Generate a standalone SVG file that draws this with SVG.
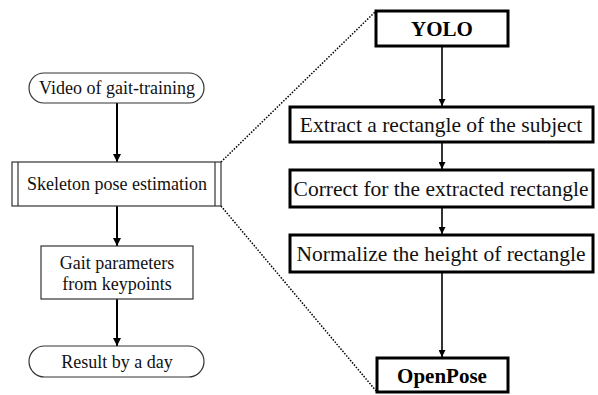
<svg xmlns="http://www.w3.org/2000/svg" width="598" height="395" viewBox="0 0 598 395">
<defs>
<marker id="ah" viewBox="0 0 10 10" refX="10" refY="5" markerWidth="7" markerHeight="7" markerUnits="userSpaceOnUse" orient="auto">
<path d="M0,0 L10,5 L0,10 z" fill="#000"/>
</marker>
<marker id="ahb" viewBox="0 0 10 10" refX="10" refY="5" markerWidth="8" markerHeight="8" markerUnits="userSpaceOnUse" orient="auto">
<path d="M0,0 L10,5 L0,10 z" fill="#000"/>
</marker>
</defs>
<style>
.thin{fill:#fff;stroke:#333;stroke-width:1.2}
.thick{fill:#fff;stroke:#000;stroke-width:3}
.t{font-family:"Liberation Serif","Times New Roman",serif;font-size:18px;fill:#111;text-anchor:middle}
.r{font-family:"Liberation Serif","Times New Roman",serif;font-size:21.5px;fill:#111;text-anchor:middle}
.b{font-family:"Liberation Serif","Times New Roman",serif;font-size:21px;font-weight:bold;fill:#000;text-anchor:middle}
.arr{stroke:#000;stroke-width:2;fill:none}
.arr2{stroke:#000;stroke-width:1.6;fill:none}
.dot{stroke:#000;stroke-width:1.5;stroke-dasharray:1.5 1.5;fill:none}
</style>
<g id="connectors">
<line class="arr" x1="117" y1="103" x2="117" y2="162" marker-end="url(#ahb)"/>
<line class="arr" x1="117" y1="206" x2="117" y2="246" marker-end="url(#ahb)"/>
<line class="arr" x1="117" y1="299" x2="117" y2="346" marker-end="url(#ahb)"/>
<line class="arr2" x1="442" y1="46" x2="442" y2="106" marker-end="url(#ah)"/>
<line class="arr2" x1="442" y1="142" x2="442" y2="169" marker-end="url(#ah)"/>
<line class="arr2" x1="442" y1="207" x2="442" y2="234" marker-end="url(#ah)"/>
<line class="arr2" x1="442" y1="272" x2="442" y2="357" marker-end="url(#ah)"/>
<line class="dot" x1="221" y1="162" x2="376" y2="11"/>
<line class="dot" x1="221" y1="206" x2="377" y2="392"/>
</g>
<g id="video">
<rect class="thin" x="29" y="73" width="175" height="30" rx="15" ry="15"/>
<text class="t" x="117" y="94">Video of gait-training</text>
</g>
<g id="skeleton">
<rect class="thin" x="12" y="162" width="209" height="44"/>
<line class="thin" x1="18" y1="162" x2="18" y2="206"/>
<line class="thin" x1="215" y1="162" x2="215" y2="206"/>
<text class="t" x="117" y="190">Skeleton pose estimation</text>
</g>
<g id="gait">
<rect class="thin" x="41" y="246" width="152" height="53"/>
<text class="t" x="117" y="269">Gait parameters</text>
<text class="t" x="117" y="290">from keypoints</text>
</g>
<g id="result">
<rect class="thin" x="29" y="346" width="175" height="31" rx="15.5" ry="15.5"/>
<text class="t" x="117" y="368">Result by a day</text>
</g>
<g id="yolo">
<rect class="thick" x="376" y="11" width="132" height="35"/>
<text class="b" x="442" y="36">YOLO</text>
</g>
<g id="extract">
<rect class="thick" x="290" y="107" width="303" height="35"/>
<text class="r" x="441" y="132">Extract a rectangle of the subject</text>
</g>
<g id="correct">
<rect class="thick" x="290" y="170" width="303" height="37"/>
<text class="r" x="441" y="196">Correct for the extracted rectangle</text>
</g>
<g id="normalize">
<rect class="thick" x="290" y="235" width="303" height="37"/>
<text class="r" x="441" y="261">Normalize the height of rectangle</text>
</g>
<g id="openpose">
<rect class="thick" x="377" y="358" width="131" height="34"/>
<text class="b" x="442" y="383">OpenPose</text>
</g>
</svg>
